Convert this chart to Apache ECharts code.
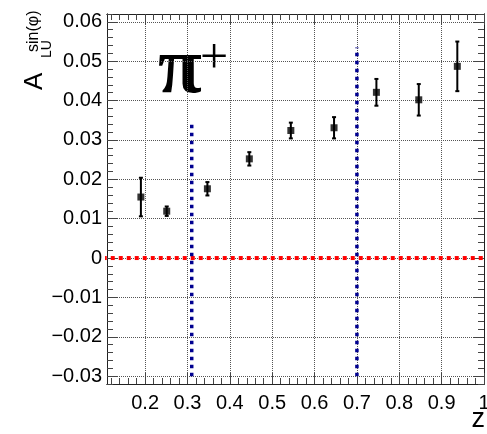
<!DOCTYPE html>
<html>
<head>
<meta charset="utf-8">
<script src="https://cdn.jsdelivr.net/npm/echarts@6/dist/echarts.min.js"></script>
<style>
  html, body { margin: 0; padding: 0; background: #fff; }
  #chart { width: 487px; height: 434px; }
</style>
</head>
<body>
<div id="chart"></div>
<script>
// Beam-spin asymmetry A_LU^{sin(phi)} for pi+ versus z
const zValues   = [0.190, 0.251, 0.347, 0.446, 0.544, 0.646, 0.746, 0.846, 0.937];
const aluValues = [0.0155, 0.0119, 0.0176, 0.0252, 0.0324, 0.0331, 0.0421, 0.0402, 0.0487];
const aluErrors = [0.0049, 0.0012, 0.0017, 0.0017, 0.0020, 0.0027, 0.0034, 0.0040, 0.0063];

// z-bin boundaries drawn as vertical dotted lines, with their upper ends
const binEdgeZ   = [0.31, 0.70];
const binEdgeTop = [0.035, 0.0535];
const binEdgeBottom = -0.03;

// Axis ranges and tick labels
const xRange = [0.11, 1.0];
const yRange = [-0.032, 0.062];
const xTickLabels = [0.2, 0.3, 0.4, 0.5, 0.6, 0.7, 0.8, 0.9, 1.0];
const yTickLabels = [-0.03, -0.02, -0.01, 0, 0.01, 0.02, 0.03, 0.04, 0.05, 0.06];
const xMinorStep = 0.02;
const yMinorStep = 0.002;

function minorTicks(range, step) {
  const out = [];
  const start = Math.ceil(range[0] / step - 1e-9);
  const end = Math.floor(range[1] / step + 1e-9);
  for (let k = start; k <= end; k++) out.push(+(k * step).toFixed(6));
  return out;
}
const xMinor = minorTicks(xRange, xMinorStep);
const yMinor = minorTicks(yRange, yMinorStep);

const FRAME = '#222';
const TICK = '#444';
const GRID = { color: '#555', width: 1, type: [1, 1] };
const LABEL_FONT = 'Liberation Sans';

function fmtX(v) {
  return Math.abs(v - 1) < 1e-9 ? '1' : v.toFixed(1);
}
function fmtY(v) {
  if (Math.abs(v) < 1e-9) return '0';
  return (v < 0 ? '\u2212' : '') + Math.abs(v).toFixed(2);
}

function makeX(position, ticks, len, withLabels, withGrid) {
  return {
    type: 'value', min: xRange[0], max: xRange[1], position: position,
    axisLine: { show: true, onZero: false, lineStyle: { color: FRAME, width: 1 } },
    axisTick: { show: true, inside: true, length: len, customValues: ticks,
                lineStyle: { color: TICK, width: 1 } },
    axisLabel: { show: withLabels, customValues: xTickLabels, formatter: fmtX,
                 margin: 9, color: '#000', fontSize: 20, fontFamily: LABEL_FONT },
    splitLine: { show: withGrid, lineStyle: GRID },
    minorTick: { show: false }, minorSplitLine: { show: false }
  };
}
function makeY(position, ticks, len, withLabels, withGrid) {
  return {
    type: 'value', min: yRange[0], max: yRange[1], position: position,
    axisLine: { show: true, onZero: false, lineStyle: { color: FRAME, width: 1 } },
    axisTick: { show: true, inside: true, length: len, customValues: ticks,
                lineStyle: { color: TICK, width: 1 } },
    axisLabel: { show: withLabels, customValues: yTickLabels, formatter: fmtY,
                 margin: 5, color: '#000', fontSize: 20, fontFamily: LABEL_FONT },
    splitLine: { show: withGrid, lineStyle: GRID },
    minorTick: { show: false }, minorSplitLine: { show: false }
  };
}

const points = zValues.map((z, i) => [z, aluValues[i]]);
const bars = zValues.map((z, i) => [z, aluValues[i], aluValues[i] - aluErrors[i], aluValues[i] + aluErrors[i]]);

const chart = echarts.init(document.getElementById('chart'), null, { renderer: 'canvas' });

const series = [
  {
    type: 'line', name: 'zero', xAxisIndex: 0, yAxisIndex: 0,
    data: [[0.1, 0], [1.0, 0]], clip: false, symbol: 'none', silent: true,
    lineStyle: { color: '#ff0000', width: 4, type: [4, 4], cap: 'butt' }, z: 3
  },
  {
    type: 'custom', name: 'errors', xAxisIndex: 0, yAxisIndex: 0,
    data: bars, encode: { x: 0, y: [1, 2, 3] }, z: 5,
    renderItem: function (params, api) {
      const x = api.value(0);
      const lo = api.coord([x, api.value(2)]);
      const hi = api.coord([x, api.value(3)]);
      const cap = 2;
      const st = { stroke: '#000', lineWidth: 2 };
      return {
        type: 'group',
        children: [
          { type: 'line', shape: { x1: lo[0], y1: lo[1], x2: hi[0], y2: hi[1] }, style: st },
          { type: 'line', shape: { x1: lo[0] - cap, y1: lo[1], x2: lo[0] + cap, y2: lo[1] }, style: st },
          { type: 'line', shape: { x1: hi[0] - cap, y1: hi[1], x2: hi[0] + cap, y2: hi[1] }, style: st }
        ]
      };
    }
  },
  {
    type: 'scatter', name: 'A_LU', xAxisIndex: 0, yAxisIndex: 0,
    data: points, symbol: 'rect', symbolSize: 7, z: 6,
    itemStyle: { color: '#000' }
  }
];
binEdgeZ.forEach((z, i) => {
  series.push({
    type: 'line', name: 'edge' + i, xAxisIndex: 0, yAxisIndex: 0,
    data: [[z, binEdgeBottom], [z, binEdgeTop[i]]], symbol: 'none', silent: true,
    lineStyle: { color: '#000090', width: 3.5, type: [3.5, 4.5], cap: 'butt' }, z: 4
  });
});

// Rotated y-axis title: local x runs up the page, local y runs to the right
const titleFont = '"Liberation Sans"';

chart.setOption({
  animation: false,
  backgroundColor: '#fff',
  grid: { left: 107, top: 14, width: 377, height: 370, containLabel: false, outerBoundsMode: 'none' },
  xAxis: [
    makeX('bottom', xTickLabels, 11, true, true),
    makeX('top', xTickLabels, 11, false, false),
    makeX('bottom', xMinor, 6, false, false),
    makeX('top', xMinor, 6, false, false)
  ],
  yAxis: [
    makeY('left', yTickLabels, 11, true, true),
    makeY('right', yTickLabels, 11, false, false),
    makeY('left', yMinor, 6, false, false),
    makeY('right', yMinor, 6, false, false)
  ],
  series: series,
  graphic: [
    {
      type: 'group', x: 48, y: 90, rotation: Math.PI / 2, originX: 0, originY: 0,
      children: [
        { type: 'text', x: 0, y: 0,
          style: { text: 'A', font: '26px ' + titleFont, fill: '#000', align: 'left', verticalAlign: 'bottom' } },
        { type: 'text', x: 32, y: 6,
          style: { text: 'LU', font: '14px ' + titleFont, fill: '#000', align: 'left', verticalAlign: 'bottom' } },
        { type: 'text', x: 38, y: -6,
          style: { text: 'sin(\u03c6)', font: '16px ' + titleFont, fill: '#000', align: 'left', verticalAlign: 'bottom' } }
      ]
    },
    { type: 'text', x: 158, y: 111,
      style: { text: '\u03c0', font: 'bold 80px "Liberation Serif"', fill: '#000', align: 'left', verticalAlign: 'bottom' } },
    { type: 'text', x: 200, y: 85,
      style: { text: '+', font: '50px "Liberation Serif"', fill: '#000', align: 'left', verticalAlign: 'bottom' } },
    { type: 'text', x: 485, y: 433,
      style: { text: 'z', font: '27px "Liberation Sans"', fill: '#000', align: 'right', verticalAlign: 'bottom' } }
  ]
});
</script>
</body>
</html>
